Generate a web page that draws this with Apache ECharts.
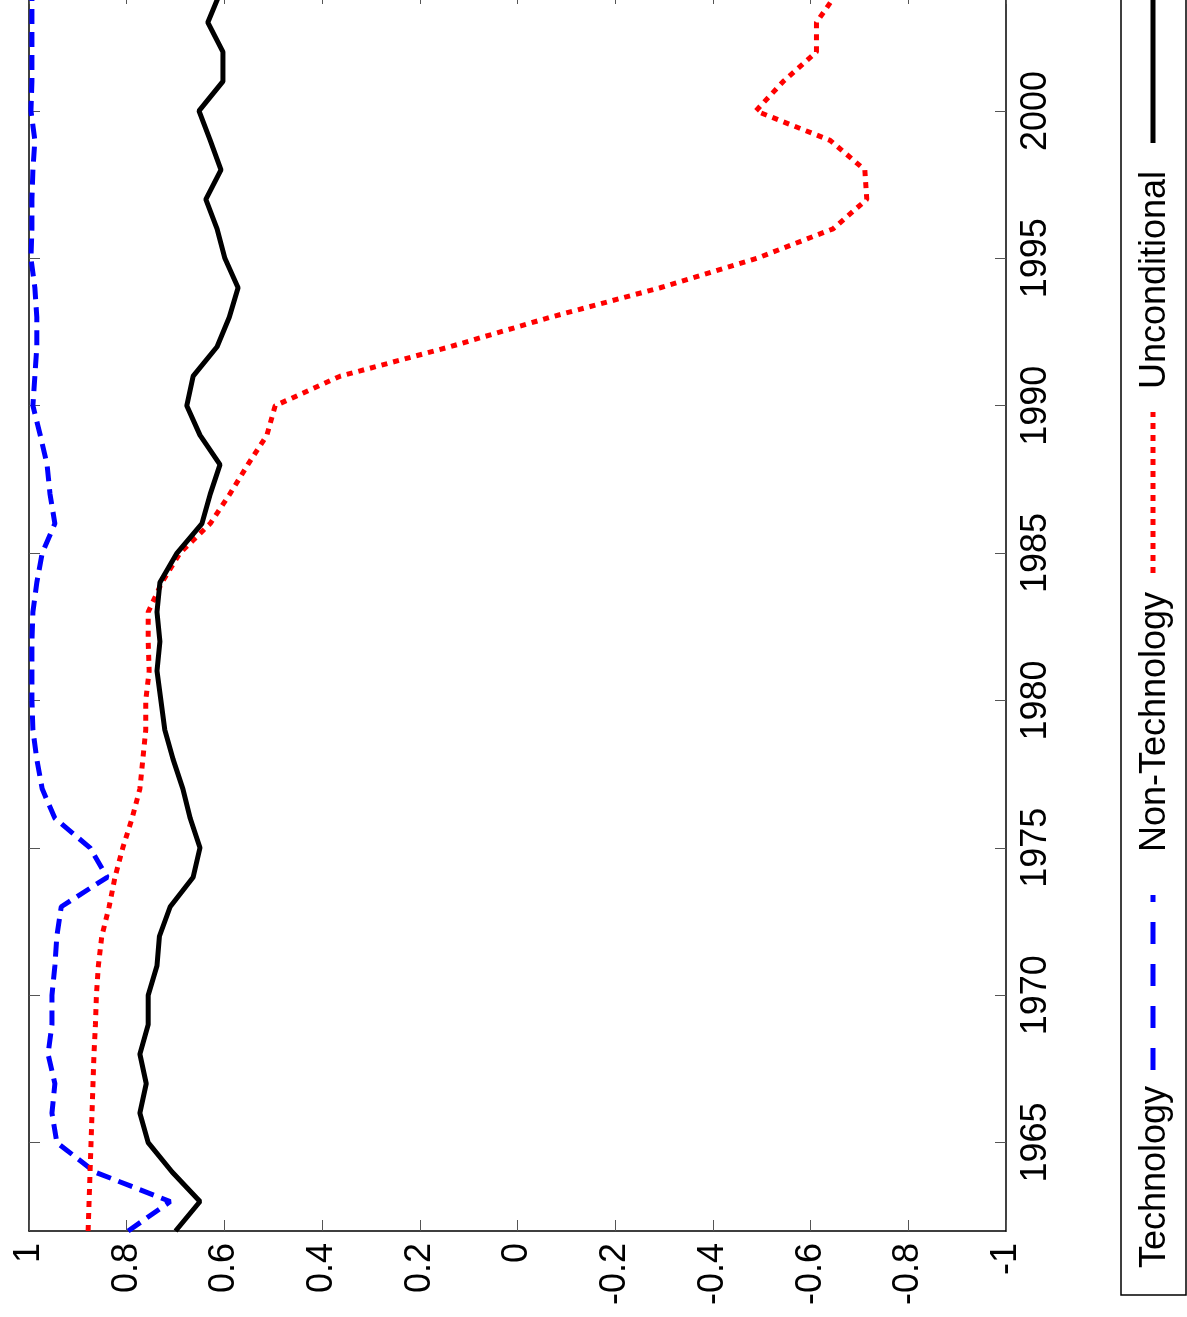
<!DOCTYPE html>
<html>
<head>
<meta charset="utf-8">
<script src="https://cdn.jsdelivr.net/npm/echarts@6/dist/echarts.min.js"></script>
<style>
html,body{margin:0;padding:0;background:#fff;overflow:hidden;}
#chart{position:absolute;left:0;top:-20px;width:1187px;height:1337px;}
</style>
</head>
<body>
<div id="chart"></div>
<script>
// ---- data ----
const years = [1962,1963,1964,1965,1966,1967,1968,1969,1970,1971,1972,1973,1974,1975,1976,1977,1978,1979,1980,1981,1982,1983,1984,1985,1986,1987,1988,1989,1990,1991,1992,1993,1994,1995,1996,1997,1998,1999,2000,2001,2002,2003,2004];
const technology = [0.797,0.711,0.865,0.943,0.953,0.947,0.961,0.953,0.953,0.947,0.943,0.934,0.840,0.875,0.947,0.973,0.984,0.992,0.994,0.994,0.994,0.992,0.984,0.973,0.947,0.957,0.963,0.977,0.992,0.988,0.984,0.984,0.988,0.996,0.994,0.994,0.992,0.988,0.996,0.994,0.994,0.994,0.994];
const nonTechnology = [0.879,0.877,0.875,0.873,0.871,0.869,0.867,0.864,0.862,0.858,0.851,0.836,0.824,0.808,0.789,0.773,0.767,0.761,0.761,0.754,0.756,0.756,0.728,0.691,0.629,0.589,0.552,0.513,0.496,0.363,0.138,-0.067,-0.292,-0.490,-0.646,-0.715,-0.711,-0.640,-0.488,-0.544,-0.612,-0.612,-0.654];
const unconditional = [0.700,0.650,0.707,0.756,0.773,0.760,0.773,0.756,0.756,0.738,0.733,0.711,0.664,0.650,0.670,0.685,0.705,0.722,0.730,0.738,0.732,0.738,0.732,0.697,0.646,0.629,0.609,0.650,0.677,0.664,0.615,0.590,0.572,0.599,0.615,0.638,0.607,0.629,0.652,0.603,0.603,0.634,0.609];
const yearTicks = [1965,1970,1975,1980,1985,1990,1995,2000];
const seriesNames = ['Technology','Non-Technology','Unconditional'];

const FONT = '"Liberation Sans", Arial, Helvetica, sans-serif';
const FS = 36;
const OFF = 20; // container is shifted up by this many px

const chart = echarts.init(document.getElementById('chart'), null, {renderer:'canvas'});

function pairs(vals){ return vals.map((v,i)=>[v, years[i]]); }

const axisLine = {show:true, onZero:false, lineStyle:{color:'#000', width:1.5}};
const tick = {show:true, inside:true, length:11, lineStyle:{color:'#555', width:1}};

const option = {
  backgroundColor:'#fff',
  animation:false,
  grid:{left:29, right:181, top:13, bottom:86, containLabel:false},
  xAxis:[
    {type:'value', min:-1, max:1, interval:0.2, inverse:true, position:'bottom',
     axisLine:axisLine, axisTick:tick, splitLine:{show:false},
     axisLabel:{show:true, rotate:90, margin:12, color:'#000', fontFamily:FONT, fontSize:FS,
       formatter:v=>String(Math.round(v*10)/10)}},
    {type:'value', min:-1, max:1, interval:0.2, inverse:true, position:'top',
     axisLine:axisLine, axisTick:tick, splitLine:{show:false}, axisLabel:{show:false}}
  ],
  yAxis:[
    {type:'value', min:1962, max:2004, position:'right',
     axisLine:axisLine, axisTick:Object.assign({}, tick, {customValues:yearTicks}), splitLine:{show:false},
     axisLabel:{show:true, rotate:90, margin:12, color:'#000', fontFamily:FONT, fontSize:FS,
       customValues:yearTicks, formatter:v=>String(v)}},
    {type:'value', min:1962, max:2004, position:'left',
     axisLine:axisLine, axisTick:Object.assign({}, tick, {customValues:yearTicks}), splitLine:{show:false},
     axisLabel:{show:false}}
  ],
  series:[
    {name:seriesNames[0], type:'line', xAxisIndex:0, yAxisIndex:0, data:pairs(technology),
     showSymbol:false, symbol:'none', lineStyle:{color:'#0000ff', width:5, type:[15,8]}},
    {name:seriesNames[1], type:'line', xAxisIndex:0, yAxisIndex:0, data:pairs(nonTechnology),
     showSymbol:false, symbol:'none', lineStyle:{color:'#ff0000', width:5, type:[6,6]}},
    {name:seriesNames[2], type:'line', xAxisIndex:0, yAxisIndex:0, data:pairs(unconditional),
     showSymbol:false, symbol:'none', lineStyle:{color:'#000000', width:5}}
  ],
  graphic:[
    {type:'rect', shape:{x:1121, y:0, width:65, height:1295+OFF}, style:{fill:'#fff', stroke:'#000', lineWidth:1.5}, z:10},
    // Technology
    {type:'text', x:1155, y:1177+OFF, rotation:Math.PI/2, z:11,
     style:{text:seriesNames[0], font:FS+'px '+FONT, fill:'#000', textAlign:'center', textVerticalAlign:'middle'}},
    {type:'line', shape:{x1:1153, y1:1070+OFF, x2:1153, y2:895+OFF}, z:11,
     style:{stroke:'#0000ff', lineWidth:5, lineDash:[22,20]}},
    // Non-Technology
    {type:'text', x:1155, y:722+OFF, rotation:Math.PI/2, z:11,
     style:{text:seriesNames[1], font:FS+'px '+FONT, fill:'#000', textAlign:'center', textVerticalAlign:'middle'}},
    {type:'line', shape:{x1:1153, y1:573+OFF, x2:1153, y2:412+OFF}, z:11,
     style:{stroke:'#ff0000', lineWidth:5, lineDash:[6,6]}},
    // Unconditional
    {type:'text', x:1155, y:280+OFF, rotation:Math.PI/2, z:11,
     style:{text:seriesNames[2], font:FS+'px '+FONT, fill:'#000', textAlign:'center', textVerticalAlign:'middle'}},
    {type:'line', shape:{x1:1153, y1:143+OFF, x2:1153, y2:-30+OFF}, z:11,
     style:{stroke:'#000', lineWidth:5}}
  ]
};
chart.setOption(option);
</script>
</body>
</html>
